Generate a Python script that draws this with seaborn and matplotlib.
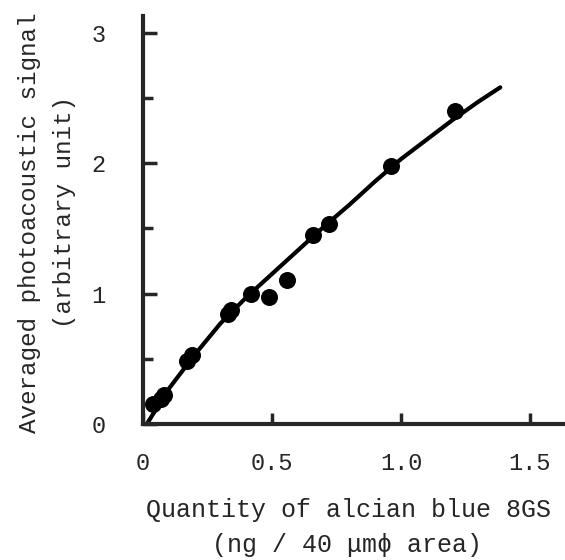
"""Photoacoustic signal vs quantity of alcian blue 8GS"""
import pandas as pd
import matplotlib
matplotlib.use("Agg")
from matplotlib import pyplot as plt
from matplotlib.ticker import MultipleLocator
import seaborn as sns

# measured points
quantity = [0.04, 0.07, 0.08, 0.17, 0.19, 0.33, 0.34, 0.42, 0.49, 0.56, 0.66, 0.72, 0.96, 1.21]
signal = [0.15, 0.19, 0.22, 0.48, 0.53, 0.84, 0.87, 1.00, 0.97, 1.10, 1.45, 1.53, 1.98, 2.40]

# fitted curve
curve_x = [0.015, 0.1, 0.2, 0.3, 0.4, 0.5, 0.6, 0.7, 0.8, 0.9, 1.0, 1.1, 1.2, 1.3, 1.385]
curve_y = [0.0, 0.27, 0.53, 0.77, 0.97, 1.15, 1.33, 1.51, 1.68, 1.86, 2.03, 2.18, 2.33, 2.47, 2.58]

x_ticks = [0, 0.5, 1.0, 1.5]
x_tick_labels = ["0", "0.5", "1.0", "1.5"]
y_ticks = [0, 1, 2, 3]
y_tick_labels = ["0", "1", "2", "3"]

sns.set_style("ticks")
plt.rcParams["font.family"] = ["Liberation Mono", "DejaVu Sans Mono"]

points = pd.DataFrame({"quantity": quantity, "signal": signal})
curve = pd.DataFrame({"x": curve_x, "y": curve_y})

fig = plt.figure(figsize=(5.65, 5.6), dpi=100)
ax = fig.add_axes([143 / 565, 1 - 424 / 560, 422 / 565, 408 / 560])

sns.lineplot(data=curve, x="x", y="y", color="black", linewidth=3, ax=ax)
sns.scatterplot(data=points, x="quantity", y="signal", color="black", s=150,
                edgecolor="black", linewidth=0, ax=ax, zorder=3, clip_on=False)

ax.set_xlim(0, 1.636)
ax.set_ylim(0, 3.127)
ax.set_xticks(x_ticks)
ax.set_xticklabels(x_tick_labels)
ax.set_yticks(y_ticks)
ax.set_yticklabels(y_tick_labels)
ax.yaxis.set_minor_locator(MultipleLocator(0.5))

ax.tick_params(axis="x", which="major", direction="in", length=8, width=2.5,
               pad=20, labelsize=17)
ax.tick_params(axis="y", which="major", direction="in", length=10, width=2.5,
               pad=27, labelsize=17)
ax.tick_params(axis="y", which="minor", direction="in", length=7, width=2.5)

for side in ["top", "right"]:
    ax.spines[side].set_visible(False)
for side in ["left", "bottom"]:
    ax.spines[side].set_linewidth(3)

ax.set_xlabel("")
ax.set_ylabel("")

fig.text(348 / 565, 1 - 510 / 560, "Quantity of alcian blue 8GS",
         ha="center", va="center", fontsize=18)
fig.text(347 / 565, 1 - 545 / 560, "(ng / 40 μmϕ area)",
         ha="center", va="center", fontsize=18)
fig.text(30 / 565, 1 - 223 / 560, "Averaged photoacoustic signal",
         ha="center", va="center", rotation=90, fontsize=17.5)
fig.text(65 / 565, 1 - 212 / 560, "(arbitrary unit)",
         ha="center", va="center", rotation=90, fontsize=17.5)

fig.savefig("out.png", dpi=100)
